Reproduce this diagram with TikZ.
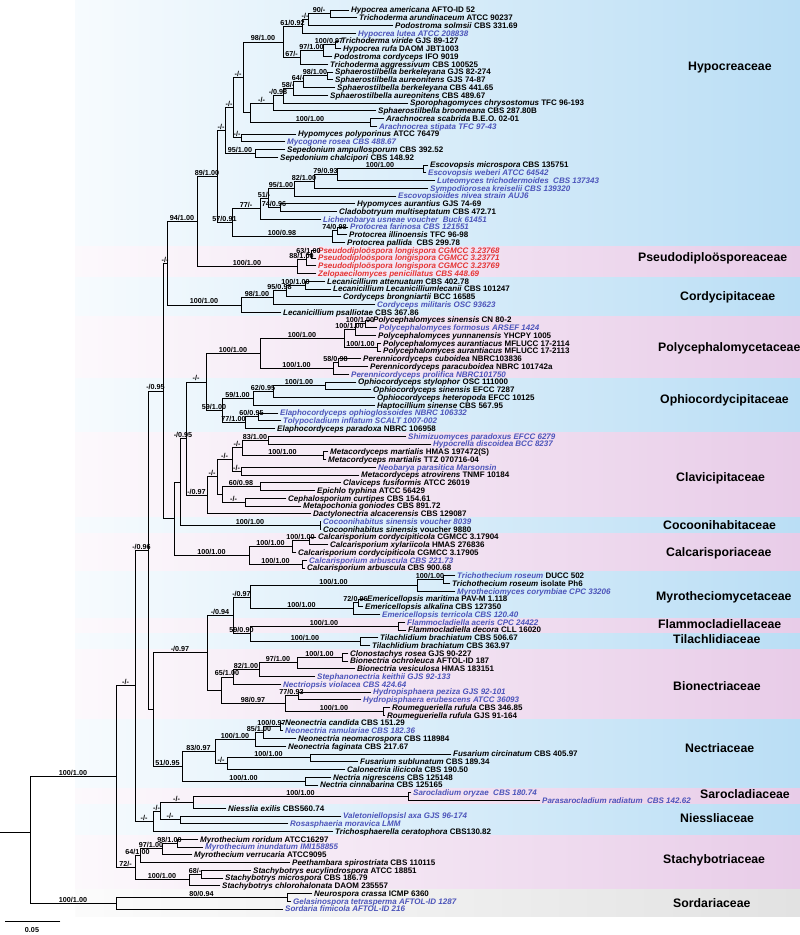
\documentclass[tikz,border=0pt]{standalone}
\usepackage{fontspec}
\setmainfont{Liberation Sans}
\usetikzlibrary{calc}
\definecolor{blu}{RGB}{76,84,186}
\definecolor{redd}{RGB}{228,52,52}
\definecolor{bandB}{RGB}{186,222,245}
\definecolor{bandP}{RGB}{232,204,232}
\definecolor{bandG}{RGB}{226,226,226}
\newlength\labw
\newcommand\leaffont{\fontsize{8}{9}\selectfont\bfseries}
\newcommand\supfont{\fontsize{7.2}{8}\selectfont\bfseries}
\newcommand\bk[2]{\textit{#1} #2}
\newcommand\bl[2]{\textcolor{blu}{\textit{#1 #2}}}
\newcommand\rdd[2]{\textcolor{redd}{\textit{#1 #2}}}
\tikzset{
  br/.style={line width=0.9pt,line cap=rect},
  leaf/.style={font=\leaffont,anchor=base west,inner sep=0pt,xshift=2pt,yshift=-2.9pt},
  sup/.style={font=\supfont,anchor=south,inner sep=0.7pt},
  fam/.style={font=\fontsize{12.3}{13}\selectfont\bfseries,anchor=west,inner sep=0pt},
}
\newcommand\lf[4]{%
  \expandafter\gdef\csname X@#1\endcsname{#2}%
  \expandafter\gdef\csname L@#1\endcsname{}%
  \coordinate (#1) at (#2,{10+(#3-1)*7.75});%
  \node[leaf] (#1t) at (#1) {#4};%
}
\newcommand\putlab[2]{%
  \edef\tmplab{\csname L@#2\endcsname}%
  \ifx\tmplab\empty\else
    \settowidth\labw{\supfont\tmplab}%
    \edef\cxx{\csname X@#2\endcsname}%
    \pgfmathsetmacro\cx{min(0.5*(#1+\cxx),\cxx-0.5*\labw-0.5)}%
    \path let \p1=(#2) in node[sup] at (\cx pt,\y1) {\tmplab};%
  \fi
}
\newcommand\nd[5]{%
  \expandafter\gdef\csname X@#1\endcsname{#2}%
  \expandafter\gdef\csname L@#1\endcsname{#5}%
  \path let \p1=(#3), \p2=(#4) in coordinate (#1) at (#2pt,{0.5*(\y1+\y2)});%
  \draw[br] (#3) -| (#1 |- #4) -- (#4);%
  \putlab{#2}{#3}\putlab{#2}{#4}%
}
\newcommand\bandd[3]{\shade[left color=band#1!12!white,right color=band#1] (75,#2) rectangle (800,#3);}
\begin{document}
\begin{tikzpicture}[x=1pt,y=-1pt]
\useasboundingbox (0,0) rectangle (800,935);
\fill[white] (0,0) rectangle (800,935);
% bands
\bandd{B}{0}{246.4}
\bandd{P}{246.4}{277.4}
\bandd{B}{277.4}{316.1}
\bandd{P}{316.1}{378.1}
\bandd{B}{378.1}{432.4}
\bandd{P}{432.4}{517.6}
\bandd{B}{517.6}{533.1}
\bandd{P}{533.1}{571.9}
\bandd{B}{571.9}{618.4}
\bandd{P}{618.4}{633.9}
\bandd{B}{633.9}{649.4}
\bandd{P}{649.4}{719.1}
\bandd{B}{719.1}{788.9}
\bandd{P}{788.9}{804.4}
\bandd{B}{804.4}{835.4}
\bandd{P}{835.4}{889.6}
\bandd{G}{889.6}{916}
% family labels
\node[fam] (f1) at (688,68) {Hypocreaceae};
\node[fam] (f2) at (638,258) {Pseudodiploösporeaceae};
\node[fam] (f3) at (680,297) {Cordycipitaceae};
\node[fam] (f4) at (658,348) {Polycephalomycetaceae};
\node[fam] (f5) at (660,400) {Ophiocordycipitaceae};
\node[fam] (f6) at (676,478) {Clavicipitaceae};
\node[fam] (f7) at (663,525) {Cocoonihabitaceae};
\node[fam] (f8) at (666,553) {Calcarisporiaceae};
\node[fam] (f9) at (656,597) {Myrotheciomycetaceae};
\node[fam] (f10) at (658,624) {Flammocladiellaceae};
\node[fam] (f11) at (673,639) {Tilachlidiaceae};
\node[fam] (f12) at (673,686) {Bionectriaceae};
\node[fam] (f13) at (685,748) {Nectriaceae};
\node[fam] (f14) at (700,794) {Sarocladiaceae};
\node[fam] (f15) at (680,818) {Niessliaceae};
\node[fam] (f16) at (663,860) {Stachybotriaceae};
\node[fam] (f17) at (673,903) {Sordariaceae};
% leaves
\lf{l1}{349}{1}{\bk{Hypocrea americana}{AFTO-ID 52}}
\lf{l2}{357}{2}{\bk{Trichoderma arundinaceum}{ATCC 90237}}
\lf{l3}{393}{3}{\bk{Podostroma solmsii}{CBS 331.69}}
\lf{l4}{356}{4}{\bl{Hypocrea lutea}{ATCC 208838}}
\lf{l5}{339}{5}{\bk{Trichoderma viride}{GJS 89-127}}
\lf{l6}{341}{6}{\bk{Hypocrea rufa}{DAOM JBT1003}}
\lf{l7}{332}{7}{\bk{Podostroma cordyceps}{IFO 9019}}
\lf{l8}{328}{8}{\bk{Trichoderma aggressivum}{CBS 100525}}
\lf{l9}{333}{9}{\bk{Sphaerostilbella berkeleyana}{GJS 82-274}}
\lf{l10}{333}{10}{\bk{Sphaerostilbella aureonitens}{GJS 74-87}}
\lf{l11}{335}{11}{\bk{Sphaerostilbella berkeleyana}{CBS 441.65}}
\lf{l12}{328}{12}{\bk{Sphaerostilbella aureonitens}{CBS 489.67}}
\lf{l13}{408}{13}{\bk{Sporophagomyces chrysostomus}{TFC 96-193}}
\lf{l14}{376}{14}{\bk{Sphaerostilbella broomeana}{CBS 287.80B}}
\lf{l15}{384}{15}{\bk{Arachnocrea scabrida}{B.E.O. 02-01}}
\lf{l16}{377}{16}{\bl{Arachnocrea stipata}{TFC 97-43}}
\lf{l17}{296}{17}{\bk{Hypomyces polyporinus}{ATCC 76479}}
\lf{l18}{285}{18}{\bl{Mycogone rosea}{CBS 488.67}}
\lf{l19}{285}{19}{\bk{Sepedonium ampullosporum}{CBS 392.52}}
\lf{l20}{278}{20}{\bk{Sepedonium chalcipori}{CBS 148.92}}
\lf{l21}{428}{21}{\bk{Escovopsis microspora}{CBS 135751}}
\lf{l22}{426}{22}{\bl{Escovopsis weberi}{ATCC 64542}}
\lf{l23}{435}{23}{\bl{Luteomyces trichodermoides}{\ CBS 137343}}
\lf{l24}{428}{24}{\bl{Sympodiorosea kreiselii}{CBS 139320}}
\lf{l25}{396}{25}{\bl{Escovopsioides nivea}{strain AUJ6}}
\lf{l26}{355}{26}{\bk{Hypomyces aurantius}{GJS 74-69}}
\lf{l27}{337}{27}{\bk{Cladobotryum multiseptatum}{CBS 472.71}}
\lf{l28}{321}{28}{\bl{Lichenobarya usneae}{voucher\ \ Buck 61451}}
\lf{l29}{348}{29}{\bl{Protocrea farinosa}{CBS 121551}}
\lf{l30}{347}{30}{\bk{Protocrea illinoensis}{TFC 96-98}}
\lf{l31}{345}{31}{\bk{Protocrea pallida}{\ CBS 299.78}}
\lf{l32}{316}{32}{\rdd{Pseudodiploöspora longispora}{CGMCC 3.23768}}
\lf{l33}{316}{33}{\rdd{Pseudodiploöspora longispora}{CGMCC 3.23771}}
\lf{l34}{316}{34}{\rdd{Pseudodiploöspora longispora}{CGMCC 3.23769}}
\lf{l35}{316}{35}{\rdd{Zelopaecilomyces penicillatus}{CBS 448.69}}
\lf{l36}{325}{36}{\bk{Lecanicillium attenuatum}{CBS 402.78}}
\lf{l37}{331}{37}{\bk{Lecanicillium Lecanicilliumlecanii}{CBS 101247}}
\lf{l38}{341}{38}{\bk{Cordyceps brongniartii}{BCC 16585}}
\lf{l39}{375}{39}{\bl{Cordyceps militaris}{OSC 93623}}
\lf{l40}{281}{40}{\bk{Lecanicillium psalliotae}{CBS 367.86}}
\lf{l41}{371}{41}{\bk{Polycephalomyces sinensis}{CN 80-2}}
\lf{l42}{377}{42}{\bl{Polycephalomyces formosus}{ARSEF 1424}}
\lf{l43}{376}{43}{\bk{Polycephalomyces yunnanensis}{YHCPY 1005}}
\lf{l44}{381}{44}{\bk{Polycephalomyces aurantiacus}{MFLUCC 17-2114}}
\lf{l45}{381}{45}{\bk{Polycephalomyces aurantiacus}{MFLUCC 17-2113}}
\lf{l46}{361}{46}{\bk{Perennicordyceps cuboidea}{NBRC103836}}
\lf{l47}{368}{47}{\bk{Perennicordyceps paracuboidea}{NBRC 101742a}}
\lf{l48}{349}{48}{\bl{Perennicordyceps prolifica}{NBRC101750}}
\lf{l49}{356}{49}{\bk{Ophiocordyceps stylophor}{OSC 111000}}
\lf{l50}{371}{50}{\bk{Ophiocordyceps sinensis}{EFCC 7287}}
\lf{l51}{375}{51}{\bk{Ophiocordyceps heteropoda}{EFCC 10125}}
\lf{l52}{375}{52}{\bk{Haptocillium sinense}{CBS 567.95}}
\lf{l53}{278}{53}{\bl{Elaphocordyceps ophioglossoides}{NBRC 106332}}
\lf{l54}{281}{54}{\bl{Tolypocladium inflatum}{SCALT 1007-002}}
\lf{l55}{275}{55}{\bk{Elaphocordyceps paradoxa}{NBRC 106958}}
\lf{l56}{406}{56}{\bl{Shimizuomyces paradoxus}{EFCC 6279}}
\lf{l57}{431}{57}{\bl{Hypocrella discoidea}{BCC 8237}}
\lf{l58}{328}{58}{\bk{Metacordyceps martialis}{HMAS 197472(S)}}
\lf{l59}{326}{59}{\bk{Metacordyceps martialis}{TTZ 070716-04}}
\lf{l60}{376}{60}{\bl{Neobarya parasitica}{Marsonsin}}
\lf{l61}{359}{61}{\bk{Metacordyceps atrovirens}{TNMF 10184}}
\lf{l62}{341}{62}{\bk{Claviceps fusiformis}{ATCC 26019}}
\lf{l63}{315}{63}{\bk{Epichlo typhina}{ATCC 56429}}
\lf{l64}{286}{64}{\bk{Cephalosporium curtipes}{CBS 154.61}}
\lf{l65}{301}{65}{\bk{Metapochonia goniodes}{CBS 891.72}}
\lf{l66}{311}{66}{\bk{Dactylonectria alcacerensis}{CBS 129087}}
\lf{l67}{321}{67}{\bl{Cocoonihabitus sinensis}{voucher 8039}}
\lf{l68}{321}{68}{\bk{Cocoonihabitus sinensis}{voucher 9880}}
\lf{l69}{316}{69}{\bk{Calcarisporium cordycipiticola}{CGMCC 3.17904}}
\lf{l70}{328}{70}{\bk{Calcarisporium xylariicola}{HMAS 276836}}
\lf{l71}{296}{71}{\bk{Calcarisporium cordycipiticola}{CGMCC 3.17905}}
\lf{l72}{307}{72}{\bl{Calcarisporium arbuscula}{CBS 221.73}}
\lf{l73}{305}{73}{\bk{Calcarisporium arbuscula}{CBS 900.68}}
\lf{l74}{455}{74}{\textcolor{blu}{\textit{Trichothecium roseum}} DUCC 502}
\lf{l75}{450}{75}{\bk{Trichothecium roseum}{isolate Ph6}}
\lf{l76}{455}{76}{\bl{Myrotheciomyces corymbiae}{CPC 33206}}
\lf{l77}{365}{77}{\bk{Emericellopsis maritima}{PAV-M 1.118}}
\lf{l78}{363}{78}{\bk{Emericellopsis alkalina}{CBS 127350}}
\lf{l79}{380}{79}{\bl{Emericellopsis terricola}{CBS 120.40}}
\lf{l80}{405}{80}{\bl{Flammocladiella aceris}{CPC 24422}}
\lf{l81}{406}{81}{\bk{Flammocladiella decora}{CLL 16020}}
\lf{l82}{378}{82}{\bk{Tilachlidium brachiatum}{CBS 506.67}}
\lf{l83}{370}{83}{\bk{Tilachlidium brachiatum}{CBS 363.97}}
\lf{l84}{348}{84}{\bk{Clonostachys rosea}{GJS 90-227}}
\lf{l85}{348}{85}{\bk{Bionectria ochroleuca}{AFTOL-ID 187}}
\lf{l86}{355}{86}{\bk{Bionectria vesiculosa}{HMAS 183151}}
\lf{l87}{315}{87}{\bl{Stephanonectria keithii}{GJS 92-133}}
\lf{l88}{281}{88}{\bl{Nectriopsis violacea}{CBS 424.64}}
\lf{l89}{371}{89}{\bl{Hydropisphaera peziza}{GJS 92-101}}
\lf{l90}{361}{90}{\bl{Hydropisphaera erubescens}{ATCC 36093}}
\lf{l91}{390}{91}{\bk{Roumegueriella rufula}{CBS 346.85}}
\lf{l92}{385}{92}{\bk{Roumegueriella rufula}{GJS 91-164}}
\lf{l93}{283}{93}{\bk{Neonectria candida}{CBS 151.29}}
\lf{l94}{283}{94}{\bl{Neonectria ramulariae}{CBS 182.36}}
\lf{l95}{296}{95}{\bk{Neonectria neomacrospora}{CBS 118984}}
\lf{l96}{286}{96}{\bk{Neonectria faginata}{CBS 217.67}}
\lf{l97}{451}{97}{\bk{Fusarium circinatum}{CBS 405.97}}
\lf{l98}{358}{98}{\bk{Fusarium sublunatum}{CBS 189.34}}
\lf{l99}{345}{99}{\bk{Calonectria ilicicola}{CBS 190.50}}
\lf{l100}{331}{100}{\bk{Nectria nigrescens}{CBS 125148}}
\lf{l101}{318}{101}{\bk{Nectria cinnabarina}{CBS 125165}}
\lf{l102}{411}{102}{\bl{Sarocladium oryzae}{\ CBS 180.74}}
\lf{l103}{540}{103}{\bl{Parasarocladium radiatum}{\ CBS 142.62}}
\lf{l104}{226}{104}{\bk{Niesslia exilis}{CBS560.74}}
\lf{l105}{341}{105}{\bl{Valetoniellopsisl axa}{GJS 96-174}}
\lf{l106}{288}{106}{\bl{Rosasphaeria moravica}{LMM}}
\lf{l107}{333}{107}{\bk{Trichosphaerella ceratophora}{CBS130.82}}
\lf{l108}{198}{108}{\bk{Myrothecium roridum}{ATCC16297}}
\lf{l109}{203}{109}{\bl{Myrothecium inundatum}{IMI158855}}
\lf{l110}{192}{110}{\bk{Myrothecium verrucaria}{ATCC9095}}
\lf{l111}{290}{111}{\bk{Peethambara spirostriata}{CBS 110115}}
\lf{l112}{251}{112}{\bk{Stachybotrys eucylindrospora}{ATCC 18851}}
\lf{l113}{223}{113}{\bk{Stachybotrys microspora}{CBS 186.79}}
\lf{l114}{220}{114}{\bk{Stachybotrys chlorohalonata}{DAOM 235557}}
\lf{l115}{312}{115}{\bk{Neurospora crassa}{ICMP 6360}}
\lf{l116}{291}{116}{\bl{Gelasinospora tetrasperma}{AFTOL-ID 1287}}
\lf{l117}{283}{117}{\bl{Sordaria fimicola}{AFTOL-ID 216}}
% Hypocreaceae
\nd{n90}{330}{l1}{l2}{90/-}
\nd{nmm1}{308}{n90}{l3}{-/-}
\nd{n61}{302}{nmm1}{l4}{61/0.92}
\nd{n100a}{335}{l5}{l6}{100/0.97}
\nd{n97a}{323}{n100a}{l7}{97/1.00}
\nd{n67}{300}{n97a}{l8}{67/-}
\nd{n98a}{283}{n61}{n67}{98/1.00}
\nd{nS98}{327}{l9}{l10}{98/1.00}
\nd{nS64}{303}{nS98}{l11}{64/-}
\nd{nS58}{293}{nS64}{l12}{58/-}
\nd{nS098}{283}{nS58}{l13}{-/0.98}
\nd{nSmm}{273}{nS098}{l14}{-/-}
\nd{nAr}{370}{l15}{l16}{100/1.00}
\nd{nB}{250}{nSmm}{nAr}{}
\nd{nA}{243}{n98a}{nB}{-/-}
\nd{nD}{241}{l17}{l18}{-/-}
\nd{nE}{233}{nA}{nD}{-/-}
\nd{nG}{255}{l19}{l20}{95/1.00}
\nd{nF}{225}{nE}{nG}{-/-}
\nd{nEs100}{423}{l21}{l22}{100/1.00}
\nd{nEs79}{337}{nEs100}{l23}{79/0.93}
\nd{nEs82}{314}{nEs79}{l24}{82/1.00}
\nd{nEs95}{294}{nEs82}{l25}{95/1.00}
\nd{nEs74}{280}{l26}{l27}{74/0.96}
\nd{nEs51}{268}{nEs95}{nEs74}{51/-}
\nd{nEs77}{260}{nEs51}{l28}{77/-}
\nd{nPr74}{337}{l29}{l30}{74/0.98}
\nd{nPr100}{332}{nPr74}{l31}{100/0.98}
\nd{nI}{232}{nEs77}{nPr100}{57/0.91}
\nd{nH}{217}{nF}{nI}{89/1.00}
% Pseudodiploosporeaceae
\nd{nPs63}{311}{l32}{l33}{63/1.00}
\nd{nPs88}{306}{nPs63}{l34}{88/1.00}
\nd{nPs}{297}{nPs88}{l35}{100/1.00}
\nd{nJ}{197}{nH}{nPs}{94/1.00}
% Cordycipitaceae
\nd{nC100}{305}{l36}{l37}{100/1.00}
\nd{nC95}{286}{nC100}{l38}{95/0.98}
\nd{nC98}{273}{nC95}{l39}{98/1.00}
\nd{nC}{241}{nC98}{l40}{100/1.00}
\nd{nK}{167}{nJ}{nC}{-/-}
% Polycephalomycetaceae
\nd{nP100a}{365}{l41}{l42}{100/1.00}
\nd{nP100b}{355}{nP100a}{l43}{100/1.00}
\nd{nP100c}{377}{l44}{l45}{100/1.00}
\nd{nPW}{344}{nP100b}{nP100c}{100/1.00}
\nd{nP58}{338}{l46}{l47}{58/0.98}
\nd{nP100d}{333}{nP58}{l48}{100/1.00}
\nd{nPol}{260}{nPW}{nP100d}{100/1.00}
% Ophiocordycipitaceae
\nd{nO100}{325}{l49}{l50}{100/1.00}
\nd{nO62}{273}{nO100}{l51}{62/0.95}
\nd{nO59}{253}{nO62}{l52}{59/1.00}
\nd{nO60}{258}{l53}{l54}{60/0.95}
\nd{nO77}{245}{nO60}{l55}{77/1.00}
\nd{nY}{222}{nO59}{nO77}{59/1.00}
\nd{nX}{206}{nPol}{nY}{-/-}
% Clavicipitaceae
\nd{nCl83}{268}{l56}{l57}{83/1.00}
\nd{nClM}{323}{l58}{l59}{100/1.00}
\nd{nClmm1}{242}{nCl83}{nClM}{-/-}
\nd{nClN}{241}{l60}{l61}{-/-}
\nd{nClmm2}{232}{nClmm1}{nClN}{-/-}
\nd{nCl60}{260}{l62}{l63}{60/0.98}
\nd{nClCM}{245}{l64}{l65}{-/-}
\nd{nClb}{222}{nCl60}{nClCM}{}
\nd{nCla}{217}{nClmm2}{nClb}{-/-}
\nd{nCL}{207}{nCla}{l66}{-/0.97}
\nd{nZ}{186}{nX}{nCL}{-/0.95}
\nd{nCoc}{320}{l67}{l68}{100/1.00}
\nd{nV}{180}{nZ}{nCoc}{}
% Calcarisporiaceae
\nd{nCa100a}{309}{l69}{l70}{100/1.00}
\nd{nCa100b}{292}{nCa100a}{l71}{100/1.00}
\nd{nCa100c}{302}{l72}{l73}{100/1.00}
\nd{nCa}{249}{nCa100b}{nCa100c}{100/1.00}
\nd{nT}{174}{nV}{nCa}{}
\nd{nR}{163}{nK}{nT}{-/0.95}
% Myrotheciomycetaceae etc
\nd{nMy100a}{443}{l74}{l75}{100/1.00}
\nd{nMy100b}{417}{nMy100a}{l76}{100/1.00}
\nd{nMy72}{358}{l77}{l78}{72/0.96}
\nd{nMy100c}{353}{nMy72}{l79}{100/1.00}
\nd{nMy}{250}{nMy100b}{nMy100c}{-/0.97}
\nd{nFl}{398}{l80}{l81}{100/1.00}
\nd{nTi}{360}{l82}{l83}{100/1.00}
\nd{nFT}{250}{nFl}{nTi}{59/0.90}
\nd{nMFT}{233}{nMy}{nFT}{-/0.94}
% Bionectriaceae
\nd{nBi100}{342}{l84}{l85}{100/1.00}
\nd{nBi97}{297}{nBi100}{l86}{97/1.00}
\nd{nBi82}{259}{nBi97}{l87}{82/1.00}
\nd{nBi65}{233}{nBi82}{l88}{65/1.00}
\nd{nBi77}{298}{l89}{l90}{77/0.93}
\nd{nBiR}{383}{l91}{l92}{100/1.00}
\nd{nBi98}{285}{nBi77}{nBiR}{98/0.97}
\nd{nBi}{221}{nBi65}{nBi98}{}
\nd{nBB}{207}{nMFT}{nBi}{-/0.97}
% Nectriaceae
\nd{nNe100a}{280}{l93}{l94}{100/0.97}
\nd{nNe85}{263}{nNe100a}{l95}{85/1.00}
\nd{nNe100b}{255}{nNe85}{l96}{100/1.00}
\nd{nNeF}{310}{l97}{l98}{100/1.00}
\nd{nNemm}{227}{nNeF}{l99}{-/-}
\nd{nNe83}{215}{nNe100b}{nNemm}{83/0.97}
\nd{nNeN}{305}{l100}{l101}{100/1.00}
\nd{nNe}{182}{nNe83}{nNeN}{51/0.95}
\nd{nS}{153}{nBB}{nNe}{}
\nd{nP}{148}{nR}{nS}{-/0.96}
% Sarocladiaceae, Niessliaceae
\nd{nSa}{408}{l102}{l103}{100/1.00}
\nd{nSaN}{193}{nSa}{l104}{-/-}
\nd{nVR}{180}{l105}{l106}{-/-}
\nd{nN160}{160}{nSaN}{nVR}{-/-}
\nd{nQ}{153}{nN160}{l107}{-/-}
\nd{nO}{135}{nP}{nQ}{-/-}
% Stachybotriaceae
\nd{nSt98}{177}{l108}{l109}{98/1.00}
\nd{nSt97}{162}{nSt98}{l110}{97/1.00}
\nd{nSt64}{140}{nSt97}{l111}{64/1.00}
\nd{nSt68}{201}{l112}{l113}{68/-}
\nd{nSt100}{189}{nSt68}{l114}{100/1.00}
\nd{nSt72}{135}{nSt64}{nSt100}{72/-}
\nd{nM}{116}{nO}{nSt72}{100/1.00}
% Sordariaceae
\nd{nSo80}{287}{l115}{l116}{80/0.94}
\nd{nSo}{116}{nSo80}{l117}{100/1.00}
\nd{root}{30}{nM}{nSo}{}
\coordinate (r0) at (0,832);
\draw[br] (r0) -- (30,832);
% scale bar
\coordinate (sb1) at (5,921);
\coordinate (sb2) at (60,921);
\draw[br] (sb1) -- (sb2);
\node[font=\supfont,inner sep=0pt] (sbl) at (32,930) {0.05};
\end{tikzpicture}
\end{document}
